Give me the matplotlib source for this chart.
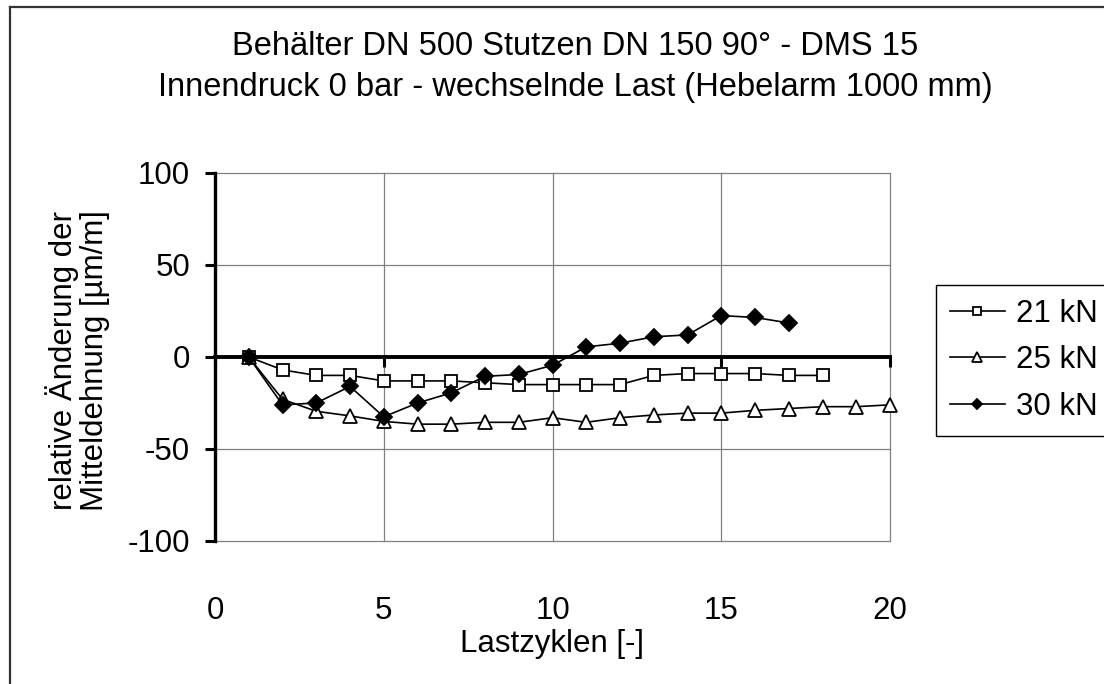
import matplotlib
matplotlib.use("Agg")
import matplotlib.pyplot as plt
from matplotlib.lines import Line2D

plt.rcParams['font.family'] = ['Liberation Sans', 'DejaVu Sans']

# Load cycles and measured change of mean strain per load level
cycles_21 = list(range(1, 19))
strain_21 = [0, -7, -10, -10, -13, -13, -13, -14, -15, -15, -15, -15, -10, -9, -9, -9, -10, -10]

cycles_25 = list(range(1, 21))
strain_25 = [0, -23, -29.5, -32, -35, -36.5, -36.5, -35.5, -35.5, -33, -35.5, -33, -31.5,
             -30.5, -30.5, -29, -28, -27, -27, -26]

cycles_30 = list(range(1, 18))
strain_30 = [0, -26, -25, -16, -32.5, -25, -19.5, -10.5, -9.5, -4.5, 5.5, 7.5, 11, 12,
             22.5, 21.5, 18.5]

series_labels = ["21 kN", "25 kN", "30 kN"]
x_ticks = [0, 5, 10, 15, 20]
y_ticks = [-100, -50, 0, 50, 100]

title_text = "Behälter DN 500 Stutzen DN 150 90° - DMS 15\nInnendruck 0 bar - wechselnde Last (Hebelarm 1000 mm)"
x_label = "Lastzyklen [-]"
y_label = "relative Änderung der\nMitteldehnung [µm/m]"

FS = 22.5
W, H = 1104, 684
fig = plt.figure(figsize=(W / 100, H / 100), dpi=100)

# chart-area frame (left and top edges visible)
fig.add_artist(Line2D([10 / W, 10 / W], [0, 1 - 7 / H], color="#333333", lw=1.6, transform=fig.transFigure))
fig.add_artist(Line2D([10 / W, 1], [1 - 7 / H, 1 - 7 / H], color="#333333", lw=1.6, transform=fig.transFigure))

ax = fig.add_axes([215 / W, 1 - 541 / H, (890 - 215) / W, (541 - 173) / H])
ax.set_xlim(0, 20)
ax.set_ylim(-100, 100)

# gridlines and grey plot-area border
for xv in x_ticks[1:]:
    ax.axvline(xv, color="#808080", lw=0.9, zorder=1)
for yv in y_ticks:
    if yv != 0:
        ax.axhline(yv, color="#808080", lw=0.9, zorder=1)
for s in ("top", "right"):
    ax.spines[s].set_visible(False)
ax.spines["left"].set_linewidth(2.4)
ax.spines["left"].set_zorder(5)

ax.set_yticks(y_ticks)
ax.set_yticklabels([str(v) for v in y_ticks], fontsize=FS)
ax.tick_params(axis="y", direction="out", length=7, width=2.2, pad=11)

# horizontal axis runs through y = 0, its labels sit below the plot area
ax.spines["bottom"].set_position(("data", 0))
ax.spines["bottom"].set_linewidth(2.8)
ax.spines["bottom"].set_zorder(3)
ax.set_xticks(x_ticks)
ax.set_xticklabels([])
ax.tick_params(axis="x", direction="out", length=7, width=2.2)
for xv in x_ticks:
    ax.text(xv, -138, str(xv), fontsize=FS, ha="center", va="center")

line_kw = dict(color="black", lw=1.2, markeredgecolor="black", markeredgewidth=1.3, zorder=4)
ax.plot(cycles_21, strain_21, marker="s", markersize=9, markerfacecolor="white",
        label=series_labels[0], **line_kw)
ax.plot(cycles_25, strain_25, marker="^", markersize=10, markerfacecolor="white",
        label=series_labels[1], **line_kw)
ax.plot(cycles_30, strain_30, marker="D", markersize=8, markerfacecolor="black",
        label=series_labels[2], **line_kw)
for ln in ax.lines:
    ln.set_clip_on(False)

fig.text(575 / W, 1 - 67 / H, title_text, fontsize=FS + 1, ha="center", va="center", linespacing=1.45)
fig.text(552 / W, 1 - 644 / H, x_label, fontsize=FS, ha="center", va="center")
fig.text(78 / W, 1 - 361 / H, y_label, fontsize=FS, ha="center", va="center",
         rotation=90, linespacing=1.05)

leg = ax.legend(loc="upper left", bbox_to_anchor=(936 / W, 1 - 285 / H),
                bbox_transform=fig.transFigure, fontsize=FS, frameon=True,
                fancybox=False, edgecolor="black", framealpha=1, markerscale=0.65,
                handlelength=1.75, handletextpad=0.35, borderpad=0.45, labelspacing=0.52,
                borderaxespad=0)
leg.get_frame().set_linewidth(1.0)

fig.savefig("out.png", dpi=100, facecolor="white")
